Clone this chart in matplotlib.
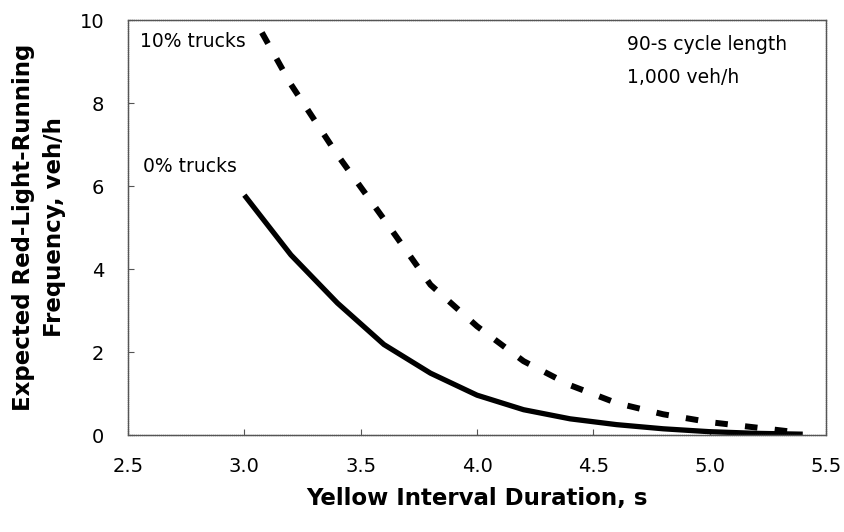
import matplotlib
matplotlib.use("Agg")
import matplotlib.pyplot as plt

plt.rcParams['font.family'] = ['DejaVu Sans']

# Data
yellow_0 = [3.0, 3.2, 3.4, 3.6, 3.8, 4.0, 4.2, 4.4, 4.6, 4.8, 5.0, 5.2, 5.4]
freq_0 = [5.78, 4.34, 3.18, 2.18, 1.49, 0.96, 0.61, 0.39, 0.25, 0.15, 0.08, 0.04, 0.02]

yellow_10 = [3.0, 3.2, 3.4, 3.6, 3.8, 4.0, 4.2, 4.4, 4.6, 4.8, 5.0, 5.2, 5.4]
freq_10 = [10.45, 8.45, 6.75, 5.2, 3.62, 2.62, 1.78, 1.2, 0.77, 0.5, 0.31, 0.18, 0.05]

xticks = [2.5, 3.0, 3.5, 4.0, 4.5, 5.0, 5.5]
yticks = [0, 2, 4, 6, 8, 10]

fig = plt.figure(figsize=(8.44, 5.32), dpi=100)
ax = fig.add_axes([0.1517, 0.1823, 0.8270, 0.7801])

ax.plot(yellow_0, freq_0, color='black', lw=3.8, solid_capstyle='butt')
ax.plot(yellow_10, freq_10, color='black', lw=4.3, linestyle=(4.0, (2.1, 2.9)),
        dash_capstyle='butt')

ax.set_xlim(2.5, 5.5)
ax.set_ylim(0, 10)
ax.set_xticks(xticks)
ax.set_yticks(yticks)
ax.set_xticklabels([f"{v:.1f}" for v in xticks])
ax.set_yticklabels([str(v) for v in yticks])
ax.tick_params(direction='in', length=4, width=0.8, colors='#555555',
               labelcolor='black', labelsize=14)
ax.tick_params(axis='y', pad=17)
ax.tick_params(axis='x', pad=16)

for s in ax.spines.values():
    s.set_color('#555555')
    s.set_linewidth(1.0)
    s.set_linestyle((0, (1, 0.5)))

ax.set_xlabel("Yellow Interval Duration, s", fontsize=16.5, fontweight='bold',
              labelpad=8)
ax.set_ylabel("Expected Red-Light-Running\nFrequency, veh/h", fontsize=16.5,
              fontweight='bold', labelpad=10, linespacing=1.45)

ax.text(0.017, 0.947, "10% trucks", transform=ax.transAxes, fontsize=13.5,
        ha='left', va='center')
ax.text(0.022, 0.648, "0% trucks", transform=ax.transAxes, fontsize=13.5,
        ha='left', va='center')
ax.text(0.715, 0.94, "90-s cycle length", transform=ax.transAxes, fontsize=13.5,
        ha='left', va='center')
ax.text(0.715, 0.862, "1,000 veh/h", transform=ax.transAxes, fontsize=13.5,
        ha='left', va='center')

fig.savefig("out.png", dpi=100)
